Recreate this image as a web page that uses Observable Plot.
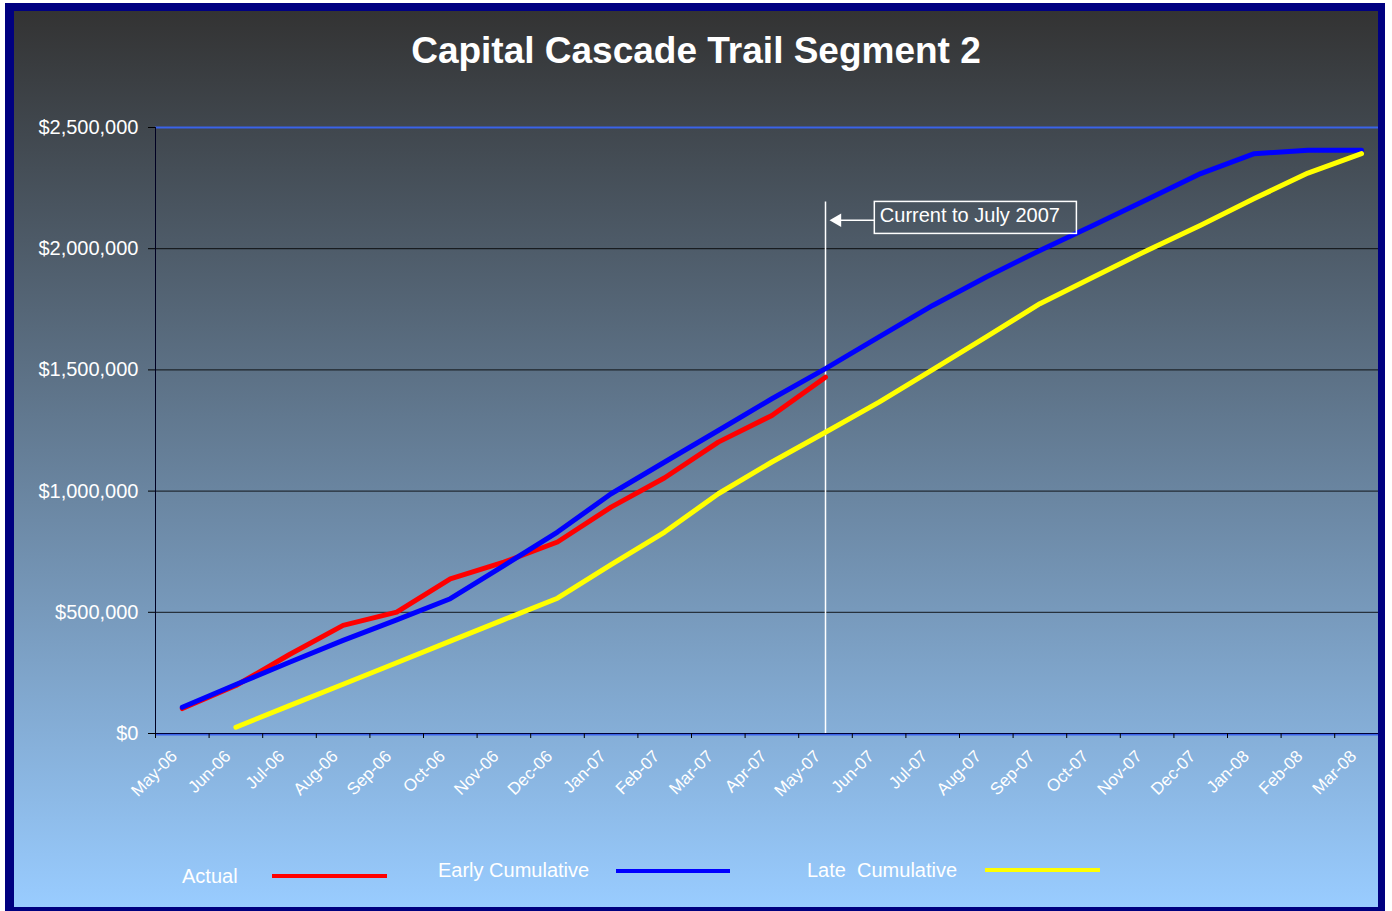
<!DOCTYPE html>
<html>
<head>
<meta charset="utf-8">
<script src="https://cdn.jsdelivr.net/npm/d3@7"></script>
<script src="https://cdn.jsdelivr.net/npm/@observablehq/plot@0.6"></script>
<style>
  html, body { margin: 0; padding: 0; background: #ffffff; }
  body { width: 1392px; height: 911px; position: relative; overflow: hidden; font-family: "Liberation Sans", Arial, sans-serif; }
  #bg { position: absolute; left: 14px; top: 11px; width: 1364px; height: 896px;
        background: linear-gradient(to bottom, #333333 0%, #99ccff 100%); }
  #chart { position: absolute; left: 0; top: 0; }
  #frame { position: absolute; left: 5px; top: 3px; width: 1380px; height: 908px; box-sizing: border-box;
           border-style: solid; border-color: #000080; border-width: 8px 7px 4px 9px; pointer-events: none; }
  #title { position: absolute; left: 14px; width: 1364px; top: 28px; text-align: center; color: #fff;
           font-weight: bold; font-size: 37px; line-height: 46px; }
  .lg { position: absolute; color: #fff; font-size: 20px; line-height: 24px; white-space: pre; }
  .sw { position: absolute; height: 4px; }
</style>
</head>
<body>
<div id="bg"></div>
<div id="chart"></div>
<div id="title">Capital Cascade Trail Segment 2</div>
<div class="lg" style="left:182px; top:864px;">Actual</div>
<div class="sw" style="left:272px; top:874px; width:115px; background:#ff0000;"></div>
<div class="lg" style="left:438px; top:858px;">Early Cumulative</div>
<div class="sw" style="left:616px; top:869px; width:114px; background:#0000ff;"></div>
<div class="lg" style="left:807px; top:858px;">Late  Cumulative</div>
<div class="sw" style="left:985px; top:868px; width:115px; background:#ffff00;"></div>
<div id="frame"></div>
<script>
const months = ["May-06","Jun-06","Jul-06","Aug-06","Sep-06","Oct-06","Nov-06","Dec-06",
  "Jan-07","Feb-07","Mar-07","Apr-07","May-07","Jun-07","Jul-07","Aug-07","Sep-07","Oct-07",
  "Nov-07","Dec-07","Jan-08","Feb-08","Mar-08"];
const actual = [103000, 198000, 326000, 446000, 501000, 638000, 707000, 790000, 934000,
  1055000, 1202000, 1312000, 1470000];
const earlyCumulative = [108000, 202000, 294000, 384000, 469000, 556000, 693000, 831000, 989000,
  1120000, 1250000, 1381000, 1505000, 1636000, 1766000, 1883000, 1993000, 2097000, 2203000,
  2310000, 2392000, 2406000, 2406000];
const lateCumulative = [null, 26000, 115000, 203000, 292000, 381000, 470000, 558000, 697000,
  831000, 989000, 1120000, 1243000, 1367000, 1501000, 1636000, 1773000, 1883000, 1993000,
  2097000, 2207000, 2312000, 2392000];
const yTicks = [0, 500000, 1000000, 1500000, 2000000, 2500000];
const currentMonth = "May-07";
const noteText = "Current to July 2007";
// annotation placement (data units)
const note = {x1: 13.42, x2: 17.19, yTop: 2193000, yBottom: 2061000, yArrow: 2117000, yLineTop: 2193000};

const toRows = arr => arr.map((v, i) => ({i, v})).filter(d => d.v != null);
const cur = months.indexOf(currentMonth) + 0.5;
const fmt = d => "$" + d3.format(",")(d);

const chart = Plot.plot({
  width: 1392, height: 911,
  marginLeft: 155, marginRight: 14, marginTop: 127, marginBottom: 178,
  style: {background: "transparent", fontFamily: "'Liberation Sans', Arial, sans-serif", overflow: "visible"},
  x: {domain: [0, 22.817], axis: null},
  y: {domain: [0, 2500000], axis: null},
  marks: [
    Plot.gridY(yTicks.slice(1, 5), {stroke: "#000", strokeOpacity: 0.85, strokeWidth: 1}),
    Plot.ruleY([2500000], {stroke: "#3a63e8", strokeWidth: 2}),
    Plot.ruleY([0], {stroke: "#3a63e8", strokeWidth: 2, dy: 1}),
    Plot.ruleY([0], {stroke: "#000033", strokeWidth: 1}),
    Plot.ruleX([0], {y1: 0, y2: 2500000, stroke: "#000022", strokeWidth: 1}),
    Plot.axisY(yTicks, {tickSize: 7, tickFormat: () => "", color: "#000"}),
    Plot.axisY(yTicks, {tickSize: 0, tickPadding: 17, tickFormat: fmt, color: "#fff", fontSize: 20}),
    Plot.axisX(d3.range(0, 23), {tickSize: 5, tickFormat: () => "", color: "#000"}),
    Plot.axisX(d3.range(0, 23).map(i => i + 0.5), {tickSize: 0, tickPadding: 20, dx: -8, tickRotate: -45,
      tickFormat: d => months[Math.floor(d)], color: "#fff", fontSize: 17}),
    Plot.ruleX([cur], {y1: 0, y2: note.yLineTop, stroke: "#fff", strokeWidth: 1.5}),
    Plot.line(toRows(actual), {x: d => d.i + 0.5, y: "v", stroke: "#ff0000", strokeWidth: 5, strokeLinecap: "round", strokeLinejoin: "round"}),
    Plot.line(toRows(earlyCumulative), {x: d => d.i + 0.5, y: "v", stroke: "#0000ff", strokeWidth: 5, strokeLinecap: "round", strokeLinejoin: "round"}),
    Plot.line(toRows(lateCumulative), {x: d => d.i + 0.5, y: "v", stroke: "#ffff00", strokeWidth: 5, strokeLinecap: "round", strokeLinejoin: "round"}),
    Plot.rect([note], {x1: "x1", x2: "x2", y1: "yBottom", y2: "yTop", fill: "none", stroke: "#fff", strokeWidth: 1.5}),
    Plot.link([note], {x1: "x1", x2: d => cur + 0.25, y1: "yArrow", y2: "yArrow", stroke: "#fff", strokeWidth: 1.5}),
    Plot.dot([note], {x: d => cur + 0.22, y: "yArrow", symbol: "triangle", r: 5, fill: "#fff", stroke: null, rotate: -90}),
    Plot.text([note], {x: "x1", y: "yTop", text: () => noteText, textAnchor: "start", lineAnchor: "top", dx: 5, dy: 6, fill: "#fff", fontSize: 20})
  ]
});
document.getElementById("chart").appendChild(chart);
</script>
</body>
</html>
